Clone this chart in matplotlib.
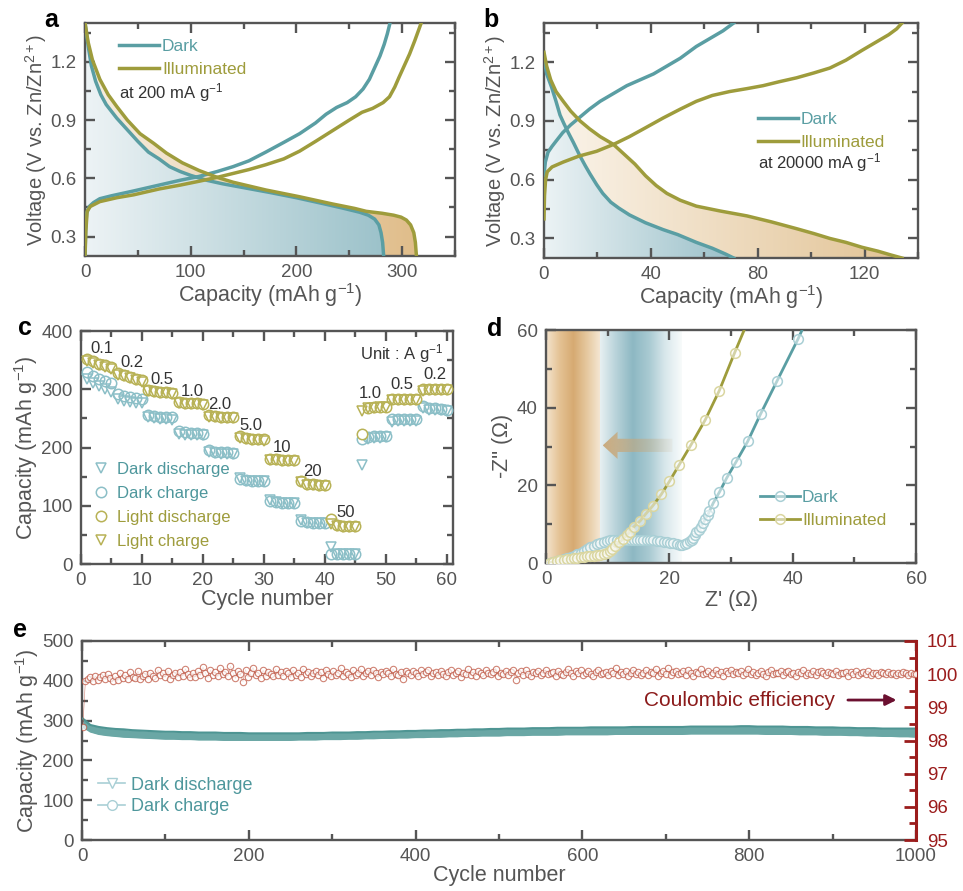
import numpy as np
import matplotlib
matplotlib.use('Agg')
import matplotlib.pyplot as plt
from matplotlib.colors import LinearSegmentedColormap
from matplotlib.patches import Polygon, FancyArrow
from matplotlib.ticker import MultipleLocator

plt.rcParams['font.family'] = ['Liberation Sans', 'DejaVu Sans']
plt.rcParams['mathtext.fontset'] = 'custom'
plt.rcParams['mathtext.rm'] = 'Liberation Sans'
plt.rcParams['mathtext.it'] = 'Liberation Sans:italic'
plt.rcParams['mathtext.bf'] = 'Liberation Sans:bold'

# ---------------- data: panel a (200 mA g-1) ----------------
a_dark_dis_cap = [0, 3, 6, 10, 15, 20, 30, 40, 50, 60, 70, 80, 90, 100, 115, 130, 150, 175, 200, 225, 245, 260, 268, 274, 278, 280, 281.5, 282.5]
a_dark_dis_v = [1.40, 1.28, 1.18, 1.10, 1.03, 0.98, 0.91, 0.85, 0.79, 0.735, 0.70, 0.66, 0.635, 0.615, 0.59, 0.572, 0.552, 0.527, 0.50, 0.47, 0.445, 0.425, 0.41, 0.39, 0.36, 0.32, 0.27, 0.20]
a_ill_dis_cap = [0, 3, 7, 14, 22, 30, 40, 52, 65, 77, 92, 108, 125, 140, 171, 203, 234, 255, 266, 281, 292, 299, 304, 308, 311, 312.5, 313.5]
a_ill_dis_v = [1.40, 1.30, 1.21, 1.11, 1.03, 0.97, 0.90, 0.83, 0.78, 0.73, 0.68, 0.64, 0.605, 0.58, 0.54, 0.505, 0.468, 0.445, 0.43, 0.42, 0.41, 0.40, 0.385, 0.36, 0.32, 0.27, 0.20]
a_dark_chg_cap = [0, 0.5, 1.5, 4, 8, 14, 25, 46, 70, 90, 108, 125, 140, 155, 171, 188, 203, 218, 228, 238, 248, 256, 263, 269, 274, 279, 283, 286, 288.5]
a_dark_chg_v = [0.20, 0.33, 0.42, 0.455, 0.475, 0.495, 0.51, 0.535, 0.565, 0.59, 0.61, 0.635, 0.66, 0.69, 0.735, 0.785, 0.83, 0.885, 0.93, 0.965, 0.99, 1.02, 1.06, 1.11, 1.17, 1.23, 1.29, 1.345, 1.40]
a_ill_chg_cap = [0, 0.8, 2, 5, 14, 30, 46, 70, 90, 108, 125, 140, 155, 171, 188, 203, 218, 234, 250, 262, 272, 282, 288, 293, 297, 302, 307, 312, 318]
a_ill_chg_v = [0.20, 0.33, 0.43, 0.455, 0.48, 0.50, 0.515, 0.545, 0.565, 0.585, 0.605, 0.625, 0.645, 0.67, 0.70, 0.74, 0.79, 0.845, 0.90, 0.94, 0.96, 0.99, 1.02, 1.07, 1.12, 1.18, 1.24, 1.31, 1.40]

# ---------------- data: panel b (20000 mA g-1) ----------------
b_dark_dis_cap = [0, 1, 2.9, 4.5, 6, 7.5, 9.1, 11, 13.5, 15.5, 17.2, 19.7, 22, 25, 28, 32, 38, 44.6, 50, 57, 63, 68, 71]
b_dark_dis_v = [1.22, 1.14, 1.07, 1.00, 0.93, 0.885, 0.84, 0.79, 0.72, 0.67, 0.63, 0.575, 0.53, 0.485, 0.455, 0.42, 0.38, 0.345, 0.32, 0.28, 0.25, 0.22, 0.20]
b_dark_chg_cap = [0, 0.5, 1.5, 3, 4.7, 7, 10, 13.5, 17, 21, 26, 31, 36, 41, 46, 51, 57, 62, 67, 71]
b_dark_chg_v = [0.62, 0.69, 0.74, 0.77, 0.80, 0.84, 0.88, 0.92, 0.96, 1.00, 1.04, 1.08, 1.11, 1.14, 1.18, 1.22, 1.28, 1.32, 1.36, 1.40]
b_ill_dis_cap = [0, 1, 2.5, 4.5, 7.2, 10, 13.5, 17, 21, 26, 30, 34, 38, 42, 46, 51, 57, 66, 76, 85, 94.5, 101, 107, 113, 119, 125, 130, 134]
b_ill_dis_v = [1.25, 1.18, 1.11, 1.05, 1.00, 0.95, 0.90, 0.86, 0.82, 0.78, 0.73, 0.68, 0.62, 0.57, 0.53, 0.495, 0.465, 0.44, 0.415, 0.385, 0.35, 0.325, 0.30, 0.28, 0.255, 0.235, 0.215, 0.20]
b_ill_chg_cap = [0, 0.2, 0.6, 1.2, 3, 7.2, 13, 19.7, 26, 32, 38, 44.6, 51, 57, 63, 69.5, 76, 82, 88, 94.5, 101, 107, 113, 119, 124, 129, 132, 134]
b_ill_chg_v = [0.40, 0.52, 0.60, 0.64, 0.665, 0.69, 0.72, 0.745, 0.78, 0.82, 0.865, 0.915, 0.96, 1.00, 1.03, 1.05, 1.065, 1.08, 1.10, 1.12, 1.145, 1.17, 1.21, 1.26, 1.30, 1.34, 1.37, 1.40]

# ---------------- data: panel c (rate capability) ----------------
c_cycles = list(range(1, 61))
c_dark_dis = [318, 310, 305, 300, 296, 284, 280, 278, 277, 276, 252, 250, 249, 249, 248,
              224, 222, 221, 221, 221, 192, 190, 189, 189, 189, 148, 143, 142, 142, 142,
              110, 106, 105, 105, 105, 76, 71, 70, 70, 70, 30, 18, 17, 17, 17,
              170, 214, 216, 217, 218, 243, 245, 246, 246, 246, 268, 265, 264, 264, 263]
c_dark_chg = [330, 322, 318, 314, 310, 292, 288, 286, 285, 284, 256, 254, 253, 253, 252,
              228, 226, 225, 225, 224, 195, 193, 192, 192, 191, 146, 144, 143, 143, 143,
              108, 106, 105, 105, 105, 74, 72, 71, 71, 71, 18, 18, 18, 17, 17,
              214, 218, 219, 220, 220, 249, 249, 249, 249, 249, 271, 268, 267, 266, 265]
c_light_dis = [352, 348, 344, 341, 338, 328, 324, 321, 318, 316, 299, 297, 296, 295, 294,
               278, 277, 276, 276, 275, 255, 254, 253, 253, 252, 219, 216, 215, 215, 214,
               181, 180, 179, 179, 178, 142, 138, 137, 136, 136, 77, 67, 66, 65, 65,
               224, 268, 269, 270, 270, 283, 284, 284, 284, 284, 300, 300, 300, 300, 300]
c_light_chg = [348, 345, 341, 338, 335, 325, 322, 319, 316, 313, 297, 295, 294, 293, 292,
               276, 275, 274, 274, 273, 253, 252, 251, 251, 250, 216, 214, 213, 213, 212,
               179, 178, 177, 177, 176, 140, 136, 135, 134, 134, 68, 65, 64, 63, 63,
               263, 267, 268, 269, 269, 281, 282, 282, 282, 282, 297, 298, 298, 298, 298]
c_rate_labels = ['0.1', '0.2', '0.5', '1.0', '2.0', '5.0', '10', '20', '50', '1.0', '0.5', '0.2']
c_rate_x = [3.4, 8.3, 13.2, 18.3, 22.8, 27.8, 32.9, 38.0, 43.4, 47.5, 52.6, 58.0]
c_rate_y = [370, 346, 317, 297, 274, 238, 200, 158, 88, 293, 309, 325]

# ---------------- data: panel d (EIS) ----------------
d_dark_zr = [0.6, 1.2, 1.8, 2.3, 2.9, 3.4, 4.0, 4.5, 5.1, 5.6, 6.1, 6.6, 7.2, 7.7, 8.3, 8.8, 9.4, 9.9, 10.4, 10.9, 11.5, 12.0, 12.6,
             13.1, 13.7, 14.2, 14.8, 15.3, 15.8, 16.3, 16.9, 17.4, 18.0, 18.5, 19.1, 19.6, 20.1, 20.6, 21.2, 21.7, 22.1, 22.5,
             22.9, 23.3, 23.6, 23.9, 24.2, 24.4, 24.8, 25.1, 25.5, 25.8, 26.2, 26.5, 27.1, 28.1, 29.3, 30.8, 32.7, 34.8, 37.5, 40.9, 41.8]
d_dark_zi = [0.1, 0.3, 0.5, 0.7, 1.0, 1.3, 1.6, 1.9, 2.3, 2.7, 3.1, 3.6, 4.0, 4.5, 4.8, 5.1, 5.4, 5.7, 5.9, 6.0, 6.0, 6.0, 6.0,
             6.0, 6.0, 6.0, 6.0, 6.0, 6.0, 6.0, 5.9, 5.8, 5.7, 5.6, 5.5, 5.4, 5.2, 5.1, 4.9, 4.7, 4.7, 4.9,
             5.2, 5.6, 6.0, 6.4, 7.1, 7.9, 8.6, 9.4, 10.3, 11.3, 12.3, 13.3, 15.4, 18.2, 21.9, 26.0, 31.3, 38.4, 47.0, 57.8, 61.0]
d_ill_zr = [0.6, 1.2, 1.8, 2.3, 2.9, 3.4, 4.0, 4.5, 5.1, 5.6, 6.1, 6.6, 7.2, 7.7, 8.3, 8.8, 9.4, 9.9, 10.3, 10.7, 11.2, 11.9,
            12.5, 13.1, 13.6, 14.3, 15.3, 16.2, 17.3, 18.7, 20.0, 21.6, 23.5, 25.8, 28.1, 30.6, 32.4]
d_ill_zi = [0.1, 0.3, 0.5, 0.7, 0.85, 1.0, 1.15, 1.3, 1.4, 1.5, 1.6, 1.7, 1.8, 1.9, 2.0, 2.1, 2.4, 2.7, 3.1, 3.6, 4.3, 5.3,
            6.2, 7.1, 8.1, 9.4, 10.9, 12.7, 14.7, 17.7, 21.0, 25.3, 30.4, 36.8, 44.4, 54.2, 61.0]

# ---------------- data: panel e (long cycling) ----------------
e_cycles = [1] + list(range(10, 1001, 10))
e_charge = [305, 289, 284, 281, 279, 278, 276, 275, 274, 273,
            272, 272, 271, 271, 270, 270, 270, 269, 269, 269,
            268, 268, 268, 268, 268, 268, 268, 269, 269, 269,
            270, 270, 270, 271, 271, 272, 272, 273, 273, 274,
            274, 275, 275, 276, 276, 277, 277, 278, 278, 279,
            279, 280, 280, 280, 281, 281, 281, 282, 282, 282,
            282, 283, 283, 283, 283, 283, 284, 284, 284, 284,
            284, 284, 284, 285, 285, 285, 285, 285, 285, 286,
            286, 285, 285, 285, 285, 284, 284, 284, 283, 283,
            283, 282, 282, 281, 281, 281, 280, 280, 280, 280,
            280]
e_discharge = [284, 272, 266, 263, 261, 259, 258, 257, 256, 255,
               254, 254, 253, 253, 252, 252, 252, 251, 251, 251,
               251, 251, 251, 251, 251, 251, 252, 252, 252, 253,
               253, 253, 254, 254, 255, 255, 256, 256, 257, 257,
               258, 258, 259, 259, 260, 260, 261, 261, 262, 262,
               262, 263, 263, 263, 264, 264, 264, 264, 265, 265,
               265, 265, 265, 265, 266, 266, 266, 266, 266, 266,
               266, 266, 266, 267, 267, 267, 267, 267, 267, 267,
               267, 267, 266, 266, 266, 266, 265, 265, 265, 264,
               264, 264, 263, 263, 262, 262, 261, 261, 260, 260,
               259]
e_ce_cycles = list(range(1, 1001, 3))
e_ce = [98.42, 99.80, 99.86, 99.92, 99.78, 99.95, 99.83, 99.90, 99.96, 99.84,
        99.99, 99.87, 99.79, 99.93, 99.81, 100.03, 99.89, 99.96, 99.85, 100.06,
        99.92, 99.88, 100.09, 99.84, 99.95, 100.00, 99.86, 100.05, 99.93, 99.89,
        100.13, 99.97, 100.02, 99.91, 100.11, 99.86, 99.98, 100.04, 99.92, 100.07,
        99.94, 100.16, 100.00, 99.90, 100.04, 99.92, 100.09, 99.96, 100.21, 100.03,
        99.89, 100.12, 99.98, 100.06, 99.93, 100.18, 100.01, 100.08, 99.95, 100.24,
        100.04, 99.87, 100.10, 99.99, 99.77, 100.14, 99.91, 100.05, 100.20, 99.97,
        100.03, 99.88, 100.12, 99.94, 100.07, 100.01, 99.93, 100.15, 99.98, 100.06,
        99.95, 100.09, 100.02, 99.90, 100.13, 99.97, 100.05, 99.92, 100.17, 100.00,
        100.08, 99.94, 100.03, 100.11, 99.96, 100.06, 99.89, 100.14, 100.01, 99.95,
        100.10, 99.98, 100.04, 100.19, 99.93, 100.07, 100.00, 99.91, 100.12, 99.97,
        100.05, 100.15, 99.94, 100.02, 100.09, 99.96, 100.13, 100.03, 99.90, 100.08,
        99.99, 100.11, 100.04, 99.95, 100.16, 100.01, 99.97, 100.07, 99.84, 100.10,
        100.02, 99.96, 100.09, 100.05, 99.93, 100.12, 99.99, 100.06, 100.14, 99.95,
        100.03, 100.08, 99.97, 100.11, 100.00, 99.94, 100.06, 100.13, 99.98, 100.04,
        100.09, 99.92, 100.05, 100.01, 100.15, 99.97, 100.07, 99.95, 100.10, 100.02,
        99.96, 100.12, 100.03, 99.99, 100.08, 100.17, 99.94, 100.05, 100.01, 100.11,
        99.97, 100.06, 100.14, 99.83, 100.03, 100.09, 99.98, 100.12, 100.00, 99.95,
        100.07, 100.02, 100.10, 99.96, 100.05, 100.13, 99.99, 100.04, 100.08, 99.93,
        100.11, 100.01, 99.97, 100.06, 100.15, 100.03, 99.95, 100.09, 100.02, 100.12,
        99.98, 100.05, 100.10, 100.00, 99.94, 100.07, 100.13, 99.99, 100.04, 100.08,
        99.96, 100.11, 100.03, 100.18, 99.97, 100.06, 100.01, 100.10, 99.93, 100.05,
        100.14, 100.00, 100.07, 99.96, 100.03, 100.12, 99.98, 100.08, 100.02, 100.16,
        99.95, 100.05, 100.10, 100.01, 100.19, 99.97, 100.06, 100.11, 100.00, 100.04,
        100.09, 99.98, 100.13, 100.03, 99.94, 100.07, 100.02, 100.15, 99.99, 100.05,
        100.10, 99.96, 100.04, 100.12, 100.01, 100.06, 99.95, 100.09, 100.03, 100.14,
        99.99, 100.07, 100.02, 100.11, 99.97, 100.05, 100.16, 100.00, 100.08, 99.96,
        100.04, 100.10, 100.01, 99.94, 100.07, 100.13, 99.99, 100.05, 100.02, 100.09,
        99.97, 100.06, 100.11, 100.00, 100.04, 99.95, 100.08, 100.03, 100.12, 99.98,
        100.05, 100.01, 100.09, 99.96, 100.06, 100.10, 100.02, 99.97, 100.07, 100.04,
        100.00, 100.11, 99.98, 100.05, 100.03, 100.08, 99.95, 100.06, 100.01, 100.09,
        99.97, 100.04, 100.07, 100.00, 100.10, 99.98, 100.05, 100.02, 99.96, 100.06,
        100.03, 99.99, 100.08, 100.01, 100.05, 99.97, 100.04, 100.00, 100.06, 100.02,
        99.98, 100.03, 100.00, 100.01]

# ---------------- colours ----------------
TEAL = '#5A9EA3'
TEAL_TXT = '#4E979C'
TEAL_LIGHT = '#8CBFC7'
OLIVE = '#9E9C3C'
OLIVE_LIGHT = '#B8B256'
GRAY = '#555555'
RED = '#BC4F3B'
DRED = '#9B1C1C'
TICK_FS = 13.5
LABEL_FS = 15.5

fig = plt.figure(figsize=(9.63, 8.91), dpi=100)


def style(ax, xmaj, xmin, ymaj, ymin, right=True):
    for s in ax.spines.values():
        s.set_color(GRAY)
        s.set_linewidth(1.7)
    ax.xaxis.set_major_locator(MultipleLocator(xmaj))
    ax.xaxis.set_minor_locator(MultipleLocator(xmin))
    ax.yaxis.set_major_locator(MultipleLocator(ymaj))
    ax.yaxis.set_minor_locator(MultipleLocator(ymin))
    ax.tick_params(which='both', direction='in', top=True, right=right,
                   color=GRAY, labelcolor=GRAY, labelsize=TICK_FS, width=1.7, pad=6)
    ax.tick_params(which='major', length=7)
    ax.tick_params(which='minor', length=4)


def grad_fill(ax, verts, x0, x1, y0, y1, c0, c1):
    cm = LinearSegmentedColormap.from_list('g', [c0, c1])
    im = ax.imshow(np.linspace(0, 1, 256)[None, :], extent=[x0, x1, y0, y1], origin='lower',
                   aspect='auto', cmap=cm, zorder=1, interpolation='bilinear')
    poly = Polygon(verts, closed=True, facecolor='none', edgecolor='none')
    ax.add_patch(poly)
    im.set_clip_path(poly)


def voltage_panel(ax, dd_c, dd_v, id_c, id_v, dc_c, dc_v, ic_c, ic_v, xmax, xmaj, tcol, bcol):
    teal_poly = list(zip(dd_c, dd_v)) + [(0, 0.2)]
    grad_fill(ax, teal_poly, 0, max(dd_c), 0.2, 1.4, tcol[0], tcol[1])
    tan_poly = list(zip(id_c, id_v)) + list(zip(dd_c, dd_v))[::-1]
    grad_fill(ax, tan_poly, 0, max(id_c), 0.2, 1.4, bcol[0], bcol[1])
    ax.plot(dd_c, dd_v, color=TEAL, lw=2.5, zorder=3, solid_joinstyle='round')
    ax.plot(dc_c, dc_v, color=TEAL, lw=2.5, zorder=3, label='Dark', solid_joinstyle='round')
    ax.plot(id_c, id_v, color=OLIVE, lw=2.5, zorder=3, solid_joinstyle='round')
    ax.plot(ic_c, ic_v, color=OLIVE, lw=2.5, zorder=3, label='Illuminated', solid_joinstyle='round')
    ax.set_xlim(0, xmax)
    ax.set_ylim(0.2, 1.4)
    style(ax, xmaj, xmaj / 2, 0.3, 0.15)
    ax.set_xlabel('Capacity (mAh g$^{-1}$)', fontsize=LABEL_FS, color=GRAY, labelpad=0)
    ax.set_ylabel('Voltage (V vs. Zn/Zn$^{2+}$)', fontsize=14.5, color=GRAY, labelpad=1)


# ---------------- panel a ----------------
axa = fig.add_axes([0.0883, 0.7127, 0.3842, 0.2615])
voltage_panel(axa, a_dark_dis_cap, a_dark_dis_v, a_ill_dis_cap, a_ill_dis_v,
              a_dark_chg_cap, a_dark_chg_v, a_ill_chg_cap, a_ill_chg_v, 350, 100,
              ('#EDF3F5', '#9CC2CA'), ('#F7EEE1', '#E0BD8A'))
axa.legend(loc='upper left', bbox_to_anchor=(0.06, 0.985), frameon=False, fontsize=12.5,
           labelcolor='linecolor', handlelength=2.3, handletextpad=0.15, labelspacing=0.45,
           borderaxespad=0.3)
axa.text(0.092, 0.70, 'at 200 mA g$^{-1}$', transform=axa.transAxes, fontsize=12, color='#333333',
         va='center')

# ---------------- panel b ----------------
axb = fig.add_axes([0.5649, 0.7104, 0.3884, 0.2638])
voltage_panel(axb, b_dark_dis_cap, b_dark_dis_v, b_ill_dis_cap, b_ill_dis_v,
              b_dark_chg_cap, b_dark_chg_v, b_ill_chg_cap, b_ill_chg_v, 140, 40,
              ('#ECF3F5', '#9AC0C9'), ('#FBF5EC', '#E2C395'))
axb.legend(loc='upper left', bbox_to_anchor=(0.53, 0.69), frameon=False, fontsize=12.5,
           labelcolor='linecolor', handlelength=2.3, handletextpad=0.15, labelspacing=0.45)
axb.text(0.572, 0.405, 'at 20000 mA g$^{-1}$', transform=axb.transAxes, fontsize=12, color='#333333',
         va='center')

# ---------------- panel c ----------------
axc = fig.add_axes([0.0841, 0.3670, 0.3863, 0.2615])
axc.plot(c_cycles, c_dark_dis, ls='none', marker='v', ms=7.5, mfc='white', mec=TEAL_LIGHT, mew=1.1,
         label='Dark discharge', zorder=3)
axc.plot(c_cycles, c_dark_chg, ls='none', marker='o', ms=7.5, mfc='none', mec=TEAL_LIGHT, mew=1.1,
         label='Dark charge', zorder=3)
axc.plot(c_cycles, c_light_dis, ls='none', marker='o', ms=7.5, mfc='white', mec=OLIVE_LIGHT, mew=1.1,
         label='Light discharge', zorder=3)
axc.plot(c_cycles, c_light_chg, ls='none', marker='v', ms=7.5, mfc='none', mec=OLIVE_LIGHT, mew=1.1,
         label='Light charge', zorder=4)
for lab, x, y in zip(c_rate_labels, c_rate_x, c_rate_y):
    axc.text(x, y, lab, fontsize=12, color='#333333', ha='center', va='center')
axc.text(52.5, 362, 'Unit : A g$^{-1}$', fontsize=12, color='#333333', ha='center', va='center')
axc.set_xlim(0, 61)
axc.set_ylim(0, 400)
style(axc, 10, 5, 100, 50)
axc.set_xlabel('Cycle number', fontsize=LABEL_FS, color=GRAY, labelpad=0)
axc.set_ylabel('Capacity (mAh g$^{-1}$)', fontsize=LABEL_FS, color=GRAY, labelpad=1)
axc.legend(loc='lower left', bbox_to_anchor=(-0.01, 0.0), frameon=False, fontsize=12,
           labelcolor=[TEAL_TXT, TEAL_TXT, OLIVE, OLIVE], handlelength=1.0, handletextpad=0.5,
           labelspacing=0.55, markerscale=1.0)

# ---------------- panel d ----------------
axd = fig.add_axes([0.567, 0.3681, 0.3842, 0.2615])
cm_tan = LinearSegmentedColormap.from_list('tan', ['#F4E4CE', '#E4C294', '#D6AA72', '#E6C9A0', '#F5E8D6'])
axd.imshow(np.linspace(0, 1, 256)[None, :], extent=[0, 8.8, 0, 60], origin='lower', aspect='auto',
           cmap=cm_tan, zorder=0, interpolation='bilinear')
cm_tl = LinearSegmentedColormap.from_list('tl', ['#E7F0F2', '#B7D2D9', '#8DB8C3', '#A9CAD2', '#D9E8EC', '#F8FBFB'])
axd.imshow(np.linspace(0, 1, 256)[None, :], extent=[8.8, 22, 0, 60], origin='lower', aspect='auto',
           cmap=cm_tl, zorder=0, interpolation='bilinear')
arrow = FancyArrow(20.5, 30.3, -11.3, 0, width=3.4, head_width=7.0, head_length=2.4,
                   length_includes_head=True, facecolor='none', edgecolor='none')
axd.add_patch(arrow)
arr_rgba = np.zeros((1, 256, 4))
arr_rgba[..., 0] = 200 / 255
arr_rgba[..., 1] = 167 / 255
arr_rgba[..., 2] = 120 / 255
arr_rgba[..., 3] = np.linspace(0.95, 0.08, 256)
im_arr = axd.imshow(arr_rgba, extent=[9.2, 20.5, 26.8, 33.8], origin='lower', aspect='auto', zorder=1,
                    interpolation='bilinear')
im_arr.set_clip_path(arrow)
axd.plot(d_dark_zr, d_dark_zi, color=TEAL, lw=2.0, marker='o', ms=7, mfc=(1, 1, 1, 0.55),
         mec='#A9CFD5', mew=1.1, markevery=slice(0, -1), label='Dark', zorder=3)
axd.plot(d_ill_zr, d_ill_zi, color=OLIVE, lw=2.0, marker='o', ms=7, mfc=(1, 1, 1, 0.55),
         mec='#DAD6A0', mew=1.1, markevery=slice(0, -1), label='Illuminated', zorder=4)
axd.set_xlim(0, 60)
axd.set_ylim(0, 60)
style(axd, 20, 10, 20, 10)
axd.set_xlabel("Z' ($\\Omega$)", fontsize=LABEL_FS, color=GRAY, labelpad=0)
axd.set_ylabel("-Z'' ($\\Omega$)", fontsize=LABEL_FS, color=GRAY, labelpad=1)
axd.legend(loc='upper left', bbox_to_anchor=(0.535, 0.38), frameon=False, fontsize=12.5,
           labelcolor='linecolor', handlelength=2.3, handletextpad=0.15, labelspacing=0.45)

# ---------------- panel e ----------------
axe = fig.add_axes([0.0852, 0.0572, 0.866, 0.2234])
axe.fill_between(e_cycles, e_discharge, e_charge, color='#6AA7A5', lw=0, zorder=2)
axe.plot(e_cycles, e_charge, color='#4E9593', lw=1.5, zorder=3)
axe.plot(e_cycles, e_discharge, color='#6AA7A5', lw=1.2, zorder=3)
axe.plot([], [], color='#A9CFD5', lw=1.2, marker='v', ms=7, mfc='white', mec='#A9CFD5',
         label='Dark discharge')
axe.plot([], [], color='#A9CFD5', lw=1.2, marker='o', ms=7, mfc='white', mec='#A9CFD5',
         label='Dark charge')
axe.set_xlim(0, 1000)
axe.set_ylim(0, 500)
style(axe, 200, 100, 100, 50, right=False)
axe.spines['right'].set_visible(False)
axe.set_xlabel('Cycle number', fontsize=LABEL_FS, color=GRAY, labelpad=0)
axe.set_ylabel('Capacity (mAh g$^{-1}$)', fontsize=LABEL_FS, color=GRAY, labelpad=1)
axe.legend(loc='upper left', bbox_to_anchor=(0.0, 0.40), frameon=False, fontsize=13,
           labelcolor=TEAL_TXT, handlelength=1.5, handletextpad=0.3, labelspacing=0.25)

axe2 = axe.twinx()
axe2.plot(e_ce_cycles, e_ce, color=RED, lw=0.4, alpha=0.7, marker='o', ms=4.6, mfc='white',
          mec=RED, mew=0.8, zorder=3)
axe2.set_ylim(95, 101)
axe2.set_xlim(0, 1000)
for k, s in axe2.spines.items():
    s.set_visible(k == 'right')
axe2.spines['right'].set_color(DRED)
axe2.spines['right'].set_linewidth(2.2)
axe2.yaxis.set_major_locator(MultipleLocator(1))
axe2.yaxis.set_minor_locator(MultipleLocator(0.5))
axe2.tick_params(which='both', direction='in', color=DRED, labelcolor=DRED, labelsize=TICK_FS, width=2, pad=8)
axe2.tick_params(which='major', length=9)
axe2.tick_params(which='minor', length=5)
axe2.text(903, 99.22, 'Coulombic efficiency', fontsize=15, color='#8B1A1A', ha='right', va='center')
axe2.annotate('', xy=(980, 99.22), xytext=(915, 99.22),
              arrowprops=dict(arrowstyle='-|>', color='#6B1030', lw=2, mutation_scale=16))

# ---------------- panel letters ----------------
for t, x, y in [('a', 0.0457, 0.9697), ('b', 0.5016, 0.9697), ('c', 0.0187, 0.624),
                ('d', 0.5057, 0.6229), ('e', 0.0135, 0.285)]:
    fig.text(x, y, t, fontsize=18, fontweight='bold', color='black', va='baseline')

fig.savefig('out.png', dpi=100)
